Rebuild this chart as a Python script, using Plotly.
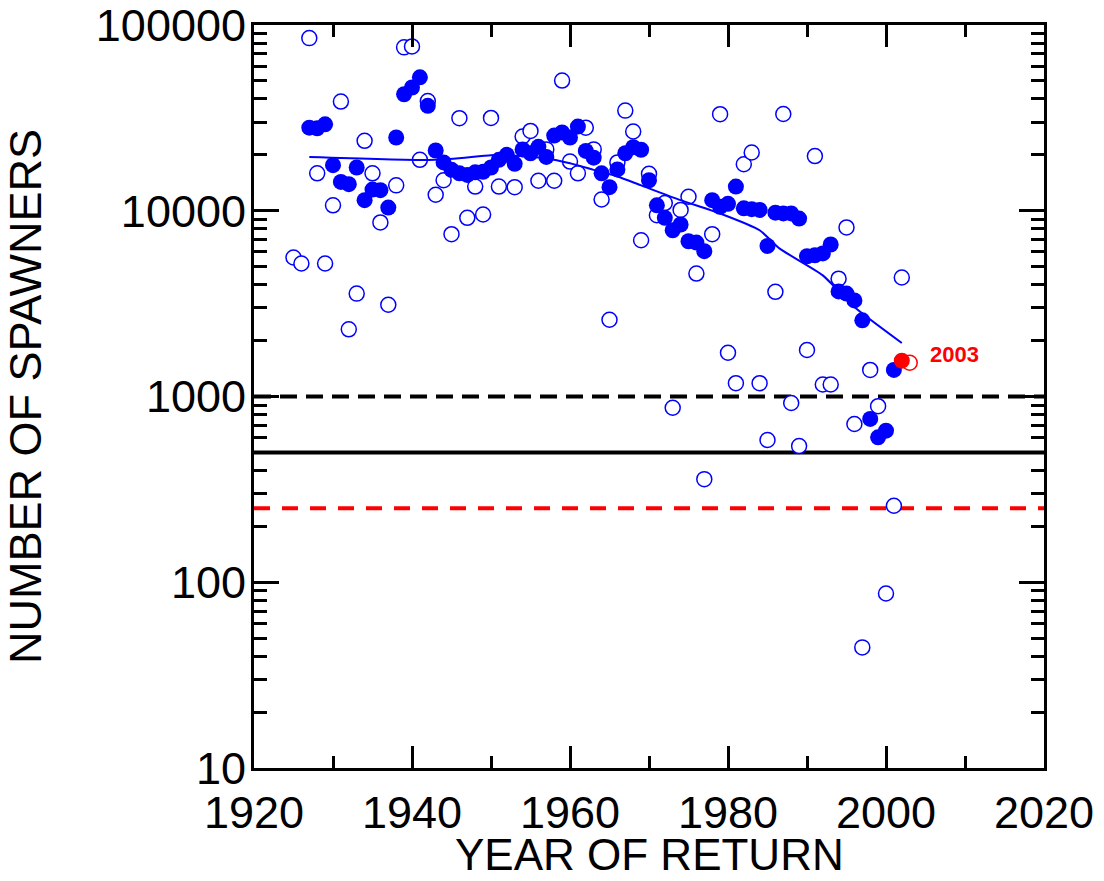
import plotly.graph_objects as go

# ---- data ----
open_years = [1925, 1926, 1927, 1928, 1929, 1930, 1931, 1932, 1933, 1934, 1935, 1936, 1937, 1938,
              1939, 1940, 1941, 1942, 1943, 1944, 1945, 1946, 1947, 1948, 1949, 1950, 1951, 1953,
              1954, 1955, 1956, 1957, 1958, 1959, 1960, 1961, 1962, 1963, 1964, 1965, 1966, 1967,
              1968, 1969, 1970, 1971, 1972, 1973, 1974, 1975, 1976, 1977, 1978, 1979, 1980, 1981,
              1982, 1983, 1984, 1985, 1986, 1987, 1988, 1989, 1990, 1991, 1992, 1993, 1994, 1995,
              1996, 1997, 1998, 1999, 2000, 2001, 2002]
open_values = [5600, 5200, 85000, 15900, 5200, 10700, 38700, 2300, 3580, 23800, 15900, 8650, 3120, 13700,
               75800, 76700, 18800, 39000, 12200, 14600, 7480, 31500, 9160, 13500, 9550, 31600, 13500, 13400,
               25100, 26900, 14500, 21400, 14500, 50200, 18400, 15900, 28000, 21400, 11500, 2590, 18200, 34600,
               26700, 6940, 15800, 9460, 11000, 870, 10100, 11900, 4590, 359, 7480, 33100, 1720, 1180,
               17800, 20600, 1180, 583, 3660, 33200, 923, 541, 1780, 19700, 1160, 1160, 4310, 8130,
               711, 44.6, 1390, 887, 87, 258, 4370]

filled_years = list(range(1927, 2002))
filled_values = [28000, 27800, 29200, 17600, 14300, 13900, 17100, 11400, 13000, 12900, 10400, 24800,
                 42400, 46100, 52300, 36700, 21100, 18200, 16600, 15900, 15600, 16100, 16200, 17100,
                 18800, 20000, 17900, 21400, 20400, 22100, 19500, 25400, 26400, 24800, 28400, 21000,
                 19300, 15900, 13400, 16700, 20400, 22000, 21300, 14600, 10700, 9160, 7850, 8430,
                 6850, 6740, 6060, 11400, 10500, 10900, 13500, 10300, 10200, 10100, 6470, 9760,
                 9670, 9670, 9080, 5690, 5760, 5890, 6580, 3680, 3580, 3290, 2570, 757, 603, 655, 1390]

highlight_open_year = [2003]
highlight_open_value = [1520]
highlight_filled_year = [2002]
highlight_filled_value = [1560]
highlight_label = "2003"

trend_years = [1927, 1943, 1950, 1952, 1957, 1960, 1963, 1966, 1969, 1974, 1979, 1984, 1986.5, 1992, 1996, 2002]
trend_values = [19500, 18800, 19900, 19900, 19100, 18000, 16600, 15300, 13700, 11400, 9660, 7850, 6270, 4490, 3030, 1940]

x_range = [1920, 2020]
y_tick_values = [10, 100, 1000, 10000, 100000]
y_tick_labels = ["10", "100", "1000", "10000", "100000"]
x_tick_values = [1920, 1940, 1960, 1980, 2000, 2020]
x_minor_values = [1930, 1950, 1970, 1990, 2010]
level_dashed_black = 1000
level_solid_black = 500
level_dashed_red = 250

FONT = "Liberation Sans, Arial, Helvetica, sans-serif"

fig = go.Figure()

# reference levels
fig.add_trace(go.Scatter(x=x_range, y=[level_dashed_black] * 2, mode="lines",
                         line=dict(color="black", width=4, dash="17px,9px"), hoverinfo="skip"))
fig.add_trace(go.Scatter(x=x_range, y=[level_solid_black] * 2, mode="lines",
                         line=dict(color="black", width=4), hoverinfo="skip"))
fig.add_trace(go.Scatter(x=x_range, y=[level_dashed_red] * 2, mode="lines",
                         line=dict(color="#ff0000", width=4, dash="16px,12px"), hoverinfo="skip"))

# annual open circles
fig.add_trace(go.Scatter(x=open_years, y=open_values, mode="markers",
                         marker=dict(symbol="circle", size=15, color="white",
                                     line=dict(color="#0000ff", width=1.5))))
fig.add_trace(go.Scatter(x=highlight_open_year, y=highlight_open_value, mode="markers",
                         marker=dict(symbol="circle", size=15, color="white",
                                     line=dict(color="#ff0000", width=1.5))))
# trend line
fig.add_trace(go.Scatter(x=trend_years, y=trend_values, mode="lines",
                         line=dict(color="#0000ff", width=2, shape="spline", smoothing=0.6)))
# filled circles
fig.add_trace(go.Scatter(x=filled_years, y=filled_values, mode="markers",
                         marker=dict(symbol="circle", size=16, color="#0000ff",
                                     line=dict(width=0))))
fig.add_trace(go.Scatter(x=highlight_filled_year, y=highlight_filled_value, mode="markers",
                         marker=dict(symbol="circle", size=16, color="#ff0000",
                                     line=dict(width=0))))

fig.add_annotation(x=2005.3, y=3.225, xref="x", yref="y", text="<b>" + highlight_label + "</b>",
                   showarrow=False, xanchor="left", yanchor="middle",
                   font=dict(family=FONT, size=22, color="#ff0000"))

axis_common = dict(showline=True, linecolor="black", linewidth=3, mirror="allticks",
                   ticks="inside", tickcolor="black", tickwidth=3, showgrid=False, zeroline=False,
                   ticklabeloverflow="allow",
                   tickfont=dict(family=FONT, size=45, color="black"))

fig.update_xaxes(range=x_range, tickmode="array", tickvals=x_tick_values,
                 ticklen=22, ticklabelstandoff=3,
                 minor=dict(ticks="inside", ticklen=12, tickwidth=3, tickcolor="black",
                            tickmode="array", tickvals=x_minor_values, showgrid=False),
                 **axis_common)
fig.update_yaxes(type="log", range=[0.99995, 5.00005], tickmode="array",
                 tickvals=y_tick_values, ticktext=y_tick_labels,
                 ticklen=25, ticklabelstandoff=-4,
                 minor=dict(ticks="inside", ticklen=13, tickwidth=3, tickcolor="black",
                            dtick="D1", showgrid=False),
                 title=dict(text="NUMBER OF SPAWNERS", font=dict(family=FONT, size=45, color="black"),
                            standoff=60),
                 **axis_common)

# x-axis title placed as paper-anchored text just under the tick labels
fig.add_annotation(x=0.5, y=0, xref="paper", yref="paper", yshift=-113, text="YEAR OF RETURN",
                   showarrow=False, xanchor="center", yanchor="bottom",
                   font=dict(family=FONT, size=44, color="black"))

fig.update_layout(width=1104, height=881, showlegend=False,
                  margin=dict(l=254, r=60, t=25, b=113, autoexpand=False),
                  plot_bgcolor="white", paper_bgcolor="white")

fig.write_html("out.html")
